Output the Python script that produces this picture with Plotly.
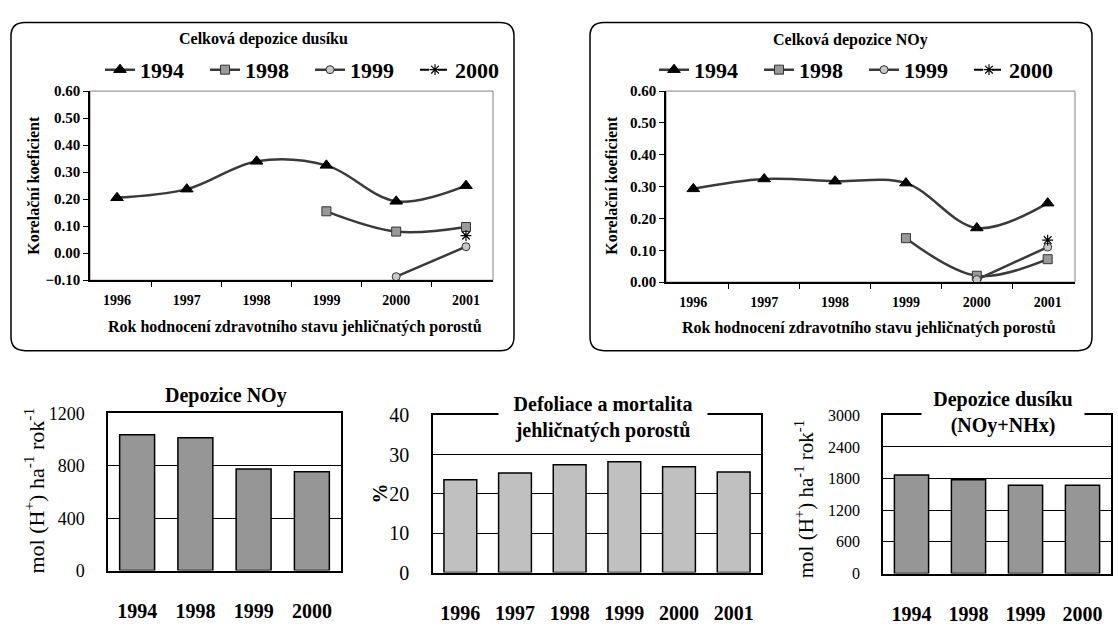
import plotly.graph_objects as go

W, H = 1118, 626

# ---------------- data ----------------
years_top = ['1996', '1997', '1998', '1999', '2000', '2001']
series_names = ['1994', '1998', '1999', '2000']

# Celková depozice dusíku (correlation coefficients)
n_1994 = [0.205, 0.237, 0.340, 0.325, 0.192, 0.250]
n_1998 = [None, None, None, 0.155, 0.080, 0.097]
n_1999 = [None, None, None, None, -0.087, 0.024]
n_2000 = [None, None, None, None, None, 0.065]

# Celková depozice NOy (correlation coefficients)
o_1994 = [0.293, 0.324, 0.317, 0.311, 0.170, 0.248]
o_1998 = [None, None, None, 0.138, 0.020, 0.072]
o_1999 = [None, None, None, None, 0.008, 0.110]
o_2000 = [None, None, None, None, None, 0.132]

# bottom bar charts
dep_years = ['1994', '1998', '1999', '2000']
dep_noy = [1036, 1014, 776, 754]
defol_years = ['1996', '1997', '1998', '1999', '2000', '2001']
defol_vals = [23.6, 25.3, 27.4, 28.2, 26.9, 25.6]
dep_n = [1867, 1776, 1671, 1671]

# ---------------- helpers ----------------
def X(px):
    return px / W

def Y(py):
    return 1 - py / H

SERIF = 'Liberation Serif, Times New Roman, serif'
LINE_C = '#3a3a3a'

styles = [
    dict(mode='lines+markers', line=dict(color=LINE_C, width=2.5, shape='spline', smoothing=1),
         marker=dict(symbol='triangle-up', size=11, color='black', line=dict(color='black', width=1))),
    dict(mode='lines+markers', line=dict(color=LINE_C, width=2.5, shape='spline', smoothing=1),
         marker=dict(symbol='square', size=9, color='#999999', line=dict(color='#333333', width=1))),
    dict(mode='lines+markers', line=dict(color=LINE_C, width=2.5, shape='spline', smoothing=1),
         marker=dict(symbol='circle', size=8, color='#c8c8c8', line=dict(color='#333333', width=1))),
    dict(mode='lines+markers', line=dict(color='black', width=2, dash='dash'),
         marker=dict(symbol='asterisk-open', size=9, color='black', line=dict(color='black', width=1.2))),
]

fig = go.Figure()

for name, vals, st in zip(series_names, [n_1994, n_1998, n_1999, n_2000], styles):
    fig.add_trace(go.Scatter(x=years_top, y=vals, name=name, xaxis='x', yaxis='y',
                             legend='legend', **st))
for name, vals, st in zip(series_names, [o_1994, o_1998, o_1999, o_2000], styles):
    fig.add_trace(go.Scatter(x=years_top, y=vals, name=name, xaxis='x2', yaxis='y2',
                             legend='legend2', **st))

bar_line = dict(color='black', width=1.5)
fig.add_trace(go.Bar(x=dep_years, y=dep_noy, xaxis='x3', yaxis='y3', showlegend=False,
                     marker=dict(color='#969696', line=bar_line)))
fig.add_trace(go.Bar(x=defol_years, y=defol_vals, xaxis='x4', yaxis='y4', showlegend=False,
                     marker=dict(color='#c0c0c0', line=bar_line)))
fig.add_trace(go.Bar(x=dep_years, y=dep_n, xaxis='x5', yaxis='y5', showlegend=False,
                     marker=dict(color='#969696', line=bar_line)))

def tick_bold(size):
    return dict(family=SERIF, size=size, color='black', weight='bold')

def top_x(dom, anchor):
    return dict(domain=[X(dom[0]), X(dom[1])], anchor=anchor, type='category',
                showline=True, linecolor='black', linewidth=1.5, showgrid=False,
                ticks='outside', tickson='boundaries', ticklen=5, tickcolor='black',
                tickwidth=1.2, tickfont=tick_bold(14), ticklabelstandoff=6, fixedrange=True)

def top_y(dom, anchor, rng):
    return dict(domain=[Y(dom[1]), Y(dom[0])], anchor=anchor, range=rng, dtick=0.1,
                tickformat='.2f', showline=True, linecolor='black', linewidth=1.5,
                showgrid=False, zeroline=False, ticks='outside', ticklen=5,
                tickcolor='black', tickwidth=1.2, tickfont=tick_bold(15), fixedrange=True)

def bot_x(dom, anchor):
    return dict(domain=[X(dom[0]), X(dom[1])], anchor=anchor, type='category',
                showline=True, mirror=True, linecolor='black', linewidth=1.5,
                showgrid=False, ticks='', ticklabelstandoff=22,
                tickfont=dict(family=SERIF, size=20, color='black', weight='bold'),
                fixedrange=True)

def bot_y(dom, anchor, rng, dtick, fsize):
    return dict(domain=[Y(dom[1]), Y(dom[0])], anchor=anchor, range=rng, dtick=dtick,
                showline=True, mirror=True, linecolor='black', linewidth=1.5,
                showgrid=True, gridcolor='black', gridwidth=1.3, zeroline=False,
                ticks='', ticklabelstandoff=18,
                tickfont=dict(family=SERIF, size=fsize, color='black'), fixedrange=True)

layout = dict(
    width=W, height=H, autosize=False,
    margin=dict(l=0, r=0, t=0, b=0),
    paper_bgcolor='white', plot_bgcolor='white',
    font=dict(family=SERIF, color='black'),
    bargap=0.4,
    xaxis=top_x((90, 493), 'y'),
    yaxis=top_y((83, 279), 'x', [-0.1, 0.6]),
    xaxis2=top_x((666, 1075), 'y2'),
    yaxis2=top_y((83, 281), 'x2', [0, 0.6]),
    xaxis3=bot_x((108, 341), 'y3'),
    yaxis3=bot_y((417, 580), 'x3', [0, 1200], 400, 18),
    xaxis4=bot_x((433, 761), 'y4'),
    yaxis4=bot_y((419, 582), 'x4', [0, 40], 10, 20),
    xaxis5=bot_x((883, 1111), 'y5'),
    yaxis5=bot_y((419, 583), 'x5', [0, 3000], 600, 16),
)

def leg(xc):
    return dict(orientation='h', x=X(xc), xanchor='center', y=Y(61), yanchor='middle',
                font=dict(family=SERIF, size=22, color='black', weight='bold'),
                bgcolor='rgba(0,0,0,0)', entrywidth=60,
                itemclick=False, itemdoubleclick=False)

layout['legend'] = leg(310)
layout['legend2'] = leg(864)

fig.update_layout(**layout)

# ---------------- shapes ----------------
def rrect(x0, y0, x1, y1, r):
    def p(x, y):
        return f'{X(x):.5f},{Y(y):.5f}'
    return (f'M {p(x0 + r, y0)} L {p(x1 - r, y0)} Q {p(x1, y0)} {p(x1, y0 + r)} '
            f'L {p(x1, y1 - r)} Q {p(x1, y1)} {p(x1 - r, y1)} '
            f'L {p(x0 + r, y1)} Q {p(x0, y1)} {p(x0, y1 - r)} '
            f'L {p(x0, y0 + r)} Q {p(x0, y0)} {p(x0 + r, y0)} Z')

shapes = [
    dict(type='path', xref='paper', yref='paper', path=rrect(11, 12, 514, 352, 14),
         line=dict(color='black', width=1.5), layer='below'),
    dict(type='path', xref='paper', yref='paper', path=rrect(590, 12, 1092, 352, 14),
         line=dict(color='black', width=1.5), layer='below'),
    dict(type='rect', xref='x domain', yref='y domain', x0=0, x1=1, y0=0, y1=1,
         line=dict(color='#808080', width=1), layer='below'),
    dict(type='rect', xref='x2 domain', yref='y2 domain', x0=0, x1=1, y0=0, y1=1,
         line=dict(color='#808080', width=1), layer='below'),
]
fig.update_layout(shapes=shapes)

# ---------------- text annotations ----------------
def ann(text, x, y, size, bold=True, angle=0, bg=None, **kw):
    d = dict(text=text, x=X(x), y=Y(y), xref='paper', yref='paper', showarrow=False,
             xanchor='center', yanchor='middle', textangle=angle,
             font=dict(family=SERIF, size=size, color='black', weight='bold' if bold else 'normal'))
    if bg:
        d['bgcolor'] = bg
    d.update(kw)
    return d

annotations = [
    ann('Celková depozice dusíku', 263, 29, 16),
    ann('Celková depozice NOy', 850, 30, 16),
    ann('Korelační koeficient', 34, 181, 16, angle=-90),
    ann('Korelační koeficient', 612, 181, 16, angle=-90),
    ann('Rok hodnocení zdravotního stavu jehličnatých porostů', 295, 327, 16),
    ann('Rok hodnocení zdravotního stavu jehličnatých porostů', 869, 329, 16),
    ann('Depozice NOy', 226, 398, 20),
    ann('mol (H<sup>+</sup>) ha<sup>-1</sup> rok<sup>-1</sup>', 34, 497, 22, bold=False, angle=-90),
    ann('Defoliace a mortalita<br>jehličnatých porostů', 603, 421, 20, bg='white',
        borderpad=1, width=206),
    ann('%', 380, 500, 20, angle=-90),
    ann('Depozice dusíku<br>(NOy+NHx)', 1003, 416, 20, bg='white', borderpad=1, width=160),
    ann('mol (H<sup>+</sup>) ha<sup>-1</sup> rok<sup>-1</sup>', 804, 506, 21, bold=False, angle=-90),
]
fig.update_layout(annotations=annotations)

# remove the browser's default 8px body margin so the figure fills the window exactly
fig.write_html('out.html', config={'displayModeBar': False},
               post_script="document.body.style.margin='0px';")
